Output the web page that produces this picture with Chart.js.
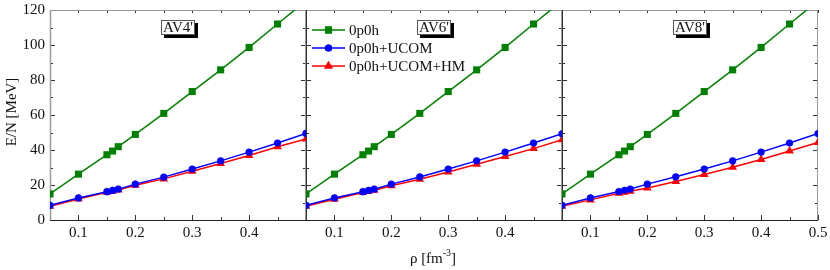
<!DOCTYPE html>
<html>
<head>
<meta charset="utf-8">
<script src="https://cdn.jsdelivr.net/npm/chart.js@4.4.1/dist/chart.umd.min.js"></script>
<style>
  body { margin: 0; background: #fff; }
  #wrap { position: relative; width: 830px; height: 270px; }
  canvas { position: absolute; left: 0; top: 0; }
</style>
</head>
<body>
<div id="wrap">
  <canvas id="p0" width="830" height="270"></canvas>
  <canvas id="p1" width="830" height="270"></canvas>
  <canvas id="p2" width="830" height="270"></canvas>
</div>
<script>
  // density rho [fm^-3]
  const density = [0.05, 0.1, 0.15, 0.16, 0.17, 0.2, 0.25, 0.3, 0.35, 0.4, 0.45, 0.5];

  const panelNames = ["AV4'", "AV6'", "AV8'"];
  const seriesNames = ['0p0h', '0p0h+UCOM', '0p0h+UCOM+HM'];

  // E/N [MeV]
  const av4_0p0h  = [14.9, 26.2, 37.3, 39.4, 41.9, 48.9, 60.9, 73.4, 85.8, 98.6, 112.0, 125.3];
  const av4_ucom  = [8.4, 12.6, 16.2, 16.9, 17.6, 20.5, 24.5, 29.1, 33.8, 38.8, 44.0, 49.5];
  const av4_hm    = [7.8, 12.0, 15.8, 16.4, 17.2, 19.9, 23.5, 27.9, 32.3, 36.9, 41.9, 46.3];

  const av6_0p0h  = [14.9, 26.2, 37.3, 39.4, 41.9, 48.9, 60.9, 73.4, 85.8, 98.6, 112.0, 125.3];
  const av6_ucom  = [8.4, 12.6, 16.2, 16.9, 17.6, 20.5, 24.6, 29.1, 33.8, 38.8, 44.0, 49.3];
  const av6_hm    = [7.8, 11.9, 15.7, 16.3, 17.0, 19.6, 23.3, 27.4, 31.9, 36.3, 40.8, 45.9];

  const av8_0p0h  = [14.9, 26.2, 37.3, 39.4, 41.9, 48.9, 60.9, 73.4, 85.8, 98.6, 112.0, 125.3];
  const av8_ucom  = [8.4, 12.6, 16.3, 17.0, 17.7, 20.5, 24.7, 29.1, 33.8, 38.8, 44.0, 49.4];
  const av8_hm    = [7.8, 11.5, 15.3, 15.9, 16.4, 18.3, 22.0, 26.0, 30.2, 34.6, 39.4, 44.3];

  const panelSeries = [
    [av4_0p0h, av4_ucom, av4_hm],
    [av6_0p0h, av6_ucom, av6_hm],
    [av8_0p0h, av8_ucom, av8_hm],
  ];

  const xTickLabels = [[0.1, 0.2, 0.3, 0.4], [0.1, 0.2, 0.3, 0.4], [0.1, 0.2, 0.3, 0.4, 0.5]];
  const yTickLabels = [0, 20, 40, 60, 80, 100, 120];
  const xMinor = [0.05, 0.1, 0.15, 0.2, 0.25, 0.3, 0.35, 0.4, 0.45, 0.5];
  const yMinor = [0, 10, 20, 30, 40, 50, 60, 70, 80, 90, 100, 110, 120];

  const colors = ['#008000', '#0000ff', '#ff0000'];
  const markers = ['rect', 'circle', 'triangle'];
  const radii = [5, 3.6, 5];

  const panelLeft = [50, 306, 562];
  const panelWidth = 256;
  const FONT = '"Liberation Serif", "Times New Roman", serif';

  const framePlugin = {
    id: 'frame',
    beforeDatasetsDraw(chart, args, opts) {
      const { ctx, chartArea: a, scales: { x, y } } = chart;
      ctx.save();
      ctx.lineWidth = 1;
      ctx.strokeStyle = '#333';
      ctx.beginPath();
      xMinor.forEach(v => {
        const px = Math.round(x.getPixelForValue(v)) + 0.5;
        const len = Math.abs(v * 10 - Math.round(v * 10)) < 1e-6 ? 5 : 3;
        ctx.moveTo(px, a.bottom); ctx.lineTo(px, a.bottom - len);
        ctx.moveTo(px, a.top); ctx.lineTo(px, a.top + 3);
      });
      yMinor.forEach(v => {
        const py = Math.round(y.getPixelForValue(v)) + 0.5;
        const len = v % 20 === 0 ? 5 : 3;
        ctx.moveTo(a.left, py); ctx.lineTo(a.left + len, py);
        ctx.moveTo(a.right, py); ctx.lineTo(a.right - len, py);
      });
      ctx.stroke();

      // frame
      ctx.strokeStyle = '#999';
      ctx.beginPath();
      ctx.moveTo(a.left, a.top + 0.5); ctx.lineTo(a.right, a.top + 0.5);
      ctx.moveTo(a.right - 0.5, a.top); ctx.lineTo(a.right - 0.5, a.bottom);
      ctx.stroke();
      ctx.strokeStyle = opts.first ? '#999' : '#333';
      ctx.lineWidth = opts.first ? 1.5 : 1;
      ctx.beginPath();
      ctx.moveTo(a.left + 0.5, a.top); ctx.lineTo(a.left + 0.5, a.bottom);
      ctx.stroke();
      ctx.strokeStyle = '#222';
      ctx.lineWidth = 1.2;
      ctx.beginPath();
      ctx.moveTo(a.left, a.bottom + 0.5); ctx.lineTo(a.right, a.bottom + 0.5);
      ctx.stroke();
      ctx.restore();
    },
    afterDraw(chart, args, opts) {
      const { ctx, chartArea: a } = chart;
      ctx.save();
      ctx.font = '15px ' + FONT;
      ctx.textBaseline = 'middle';

      // panel label box with shadow
      const tw = ctx.measureText(opts.label).width;
      const bw = tw + 4, bh = 15;
      const bx = (a.left + a.right) / 2 - bw / 2, by = 20;
      ctx.fillStyle = '#000';
      ctx.fillRect(bx + 3, by + 3, bw, bh);
      ctx.fillStyle = '#fff';
      ctx.fillRect(bx, by, bw, bh);
      ctx.strokeStyle = '#555';
      ctx.lineWidth = 1;
      ctx.strokeRect(bx + 0.5, by + 0.5, bw - 1, bh - 1);
      ctx.fillStyle = '#111';
      ctx.textAlign = 'center';
      ctx.fillText(opts.label, bx + bw / 2, by + bh / 2 + 1);

      if (opts.legend) {
        ctx.textAlign = 'left';
        chart.data.datasets.forEach((ds, i) => {
          const ly = 30 + 18 * i;
          ctx.strokeStyle = ds.borderColor;
          ctx.lineWidth = 1.5;
          ctx.beginPath();
          ctx.moveTo(312, ly); ctx.lineTo(345, ly);
          ctx.stroke();
          ctx.fillStyle = ds.borderColor;
          Chart.helpers.drawPoint(ctx, { pointStyle: ds.pointStyle, radius: ds.pointRadius, borderWidth: 0 }, 328.5, ly);
          ctx.fill();
          ctx.fillStyle = '#111';
          ctx.fillText(ds.label, 349, ly + 1);
        });
      }

      if (opts.yTitle) {
        ctx.save();
        ctx.translate(12, 112);
        ctx.rotate(-Math.PI / 2);
        ctx.textAlign = 'center';
        ctx.fillStyle = '#111';
        ctx.fillText('E/N [MeV]', 0, 0);
        ctx.restore();
      }

      if (opts.xTitle) {
        ctx.fillStyle = '#111';
        ctx.textAlign = 'left';
        const p1 = 'ρ [fm', sup = '-3', p2 = ']';
        ctx.font = '15px ' + FONT;
        const w1 = ctx.measureText(p1).width, w3 = ctx.measureText(p2).width;
        ctx.font = '10px ' + FONT;
        const w2 = ctx.measureText(sup).width;
        let sx = 433 - (w1 + w2 + w3) / 2;
        ctx.font = '15px ' + FONT;
        ctx.fillText(p1, sx, 259);
        ctx.font = '10px ' + FONT;
        ctx.fillText(sup, sx + w1, 253);
        ctx.font = '15px ' + FONT;
        ctx.fillText(p2, sx + w1 + w2, 259);
      }
      ctx.restore();
    }
  };

  function noPad(s) {
    s.paddingTop = 0; s.paddingBottom = 0; s.paddingLeft = 0; s.paddingRight = 0;
  }

  function makePanel(idx) {
    const datasets = panelSeries[idx].map((vals, i) => ({
      label: seriesNames[i],
      data: density.map((d, k) => ({ x: d, y: vals[k] })),
      borderColor: colors[i],
      backgroundColor: colors[i],
      pointStyle: markers[i],
      pointRadius: radii[i],
      pointBorderWidth: 0,
      borderWidth: 1.5,
      tension: 0,
      clip: 0,
    }));
    const left = panelLeft[idx];
    const hasY = idx === 0;
    return new Chart(document.getElementById('p' + idx), {
      type: 'line',
      data: { datasets },
      plugins: [framePlugin],
      options: {
        responsive: false,
        animation: false,
        devicePixelRatio: 1,
        layout: { padding: { left: hasY ? 0 : left, right: 830 - left - panelWidth, top: 10, bottom: 0 } },
        plugins: {
          legend: { display: false },
          tooltip: { enabled: false },
          frame: { label: panelNames[idx], legend: idx === 1, yTitle: idx === 0, xTitle: idx === 1, first: idx === 0 },
        },
        scales: {
          x: {
            type: 'linear',
            min: 0.05, max: 0.5,
            grid: { display: false, drawTicks: false },
            border: { display: false },
            afterFit: s => { s.height = 50; noPad(s); },
            afterBuildTicks: s => { s.ticks = xTickLabels[idx].map(v => ({ value: v })); },
            ticks: {
              autoSkip: false, maxRotation: 0, padding: 4,
              color: '#111',
              font: { family: FONT, size: 15 },
              callback: v => v.toFixed(1),
            },
          },
          y: {
            display: hasY,
            min: 0, max: 120,
            grid: { display: false, drawTicks: false },
            border: { display: false },
            afterFit: s => { s.width = hasY ? left : 0; noPad(s); },
            afterBuildTicks: s => { s.ticks = yTickLabels.map(v => ({ value: v })); },
            ticks: {
              autoSkip: false, padding: 5,
              color: '#111',
              font: { family: FONT, size: 15 },
              callback: v => String(v),
            },
          },
        },
      },
    });
  }

  [0, 1, 2].forEach(makePanel);
</script>
</body>
</html>
